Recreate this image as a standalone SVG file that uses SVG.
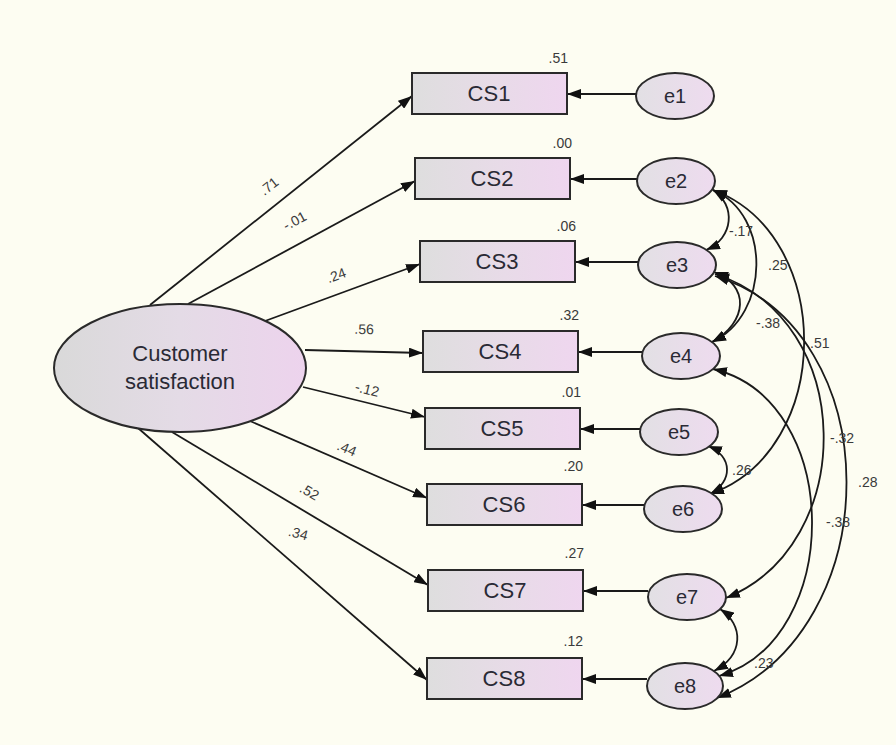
<svg xmlns="http://www.w3.org/2000/svg" width="896" height="745" viewBox="0 0 896 745">
<defs>
<linearGradient id="gBox" x1="0" y1="0" x2="1" y2="0"><stop offset="0" stop-color="#dedede"/><stop offset="0.55" stop-color="#e8dbe8"/><stop offset="1" stop-color="#efd6ef"/></linearGradient>
<linearGradient id="gLat" x1="0" y1="0" x2="1" y2="0"><stop offset="0" stop-color="#d9d9d9"/><stop offset="0.5" stop-color="#e4dbe6"/><stop offset="1" stop-color="#edd3ed"/></linearGradient>
<linearGradient id="gErr" x1="0" y1="0" x2="1" y2="0"><stop offset="0" stop-color="#e2e0e4"/><stop offset="1" stop-color="#eedbef"/></linearGradient>
<marker id="ah" viewBox="0 0 14 10" refX="14" refY="5" markerWidth="14" markerHeight="10" markerUnits="userSpaceOnUse" orient="auto-start-reverse"><path d="M0,0 L14,5 L0,10 z" fill="#111"/></marker>
</defs>
<style>
.box{fill:url(#gBox);stroke:#2a2a2a;stroke-width:2}
.lat{fill:url(#gLat);stroke:#2a2a2a;stroke-width:2}
.err{fill:url(#gErr);stroke:#2a2a2a;stroke-width:2}
.t{font-family:"Liberation Sans",Arial,sans-serif;fill:#2a2a35}
.nm{font-size:22px;text-anchor:middle}
.el{font-size:20px;text-anchor:middle}
.num{font-size:14px;fill:#3a3a3a}
.r2{font-size:14px;fill:#3a3a3a;text-anchor:end}
.pl{font-size:14px;fill:#3a3a3a;text-anchor:middle}
.ln{fill:none;stroke:#1a1a1a;stroke-width:1.8;marker-end:url(#ah)}
.cv{fill:none;stroke:#1a1a1a;stroke-width:1.8;marker-start:url(#ah);marker-end:url(#ah)}
</style>
<rect x="0" y="0" width="896" height="745" fill="#fdfdf2"/>

<g id="connectors">
<line class="ln" x1="150" y1="305" x2="412" y2="96"/>
<line class="ln" x1="188" y1="304" x2="415" y2="181"/>
<line class="ln" x1="265" y1="321" x2="420" y2="264"/>
<line class="ln" x1="305" y1="350" x2="423" y2="353"/>
<line class="ln" x1="303" y1="387" x2="425" y2="417"/>
<line class="ln" x1="250" y1="421" x2="427" y2="498"/>
<line class="ln" x1="172" y1="432" x2="428" y2="585"/>
<line class="ln" x1="138" y1="428" x2="427" y2="680"/>

<line class="ln" x1="636" y1="94" x2="567" y2="94"/>
<line class="ln" x1="637" y1="179" x2="570" y2="179"/>
<line class="ln" x1="638" y1="262" x2="575" y2="262"/>
<line class="ln" x1="642" y1="352" x2="578" y2="352"/>
<line class="ln" x1="640" y1="429" x2="580" y2="429"/>
<line class="ln" x1="644" y1="505" x2="582" y2="505"/>
<line class="ln" x1="648" y1="591" x2="583" y2="591"/>
<line class="ln" x1="647" y1="679" x2="582" y2="679"/>

<path class="cv" d="M713,190 C736,205 734,238 706,250"/>
<path class="cv" d="M713,190 C772,215 770,315 712,342"/>
<path class="cv" d="M714,272 C750,285 748,322 712,342"/>
<path class="cv" d="M713,190 C835,235 835,450 710,494"/>
<path class="cv" d="M715,274 C858,320 858,545 726,598"/>
<path class="cv" d="M715,276 C890,330 890,630 717,698"/>
<path class="cv" d="M713,369 C844,400 844,640 719,676"/>
<path class="cv" d="M708,446 C733,456 733,482 710,494"/>
<path class="cv" d="M720,609 C744,625 744,655 714,671"/>

<text class="t pl" transform="translate(272,190) rotate(-38)">.71</text>
<text class="t pl" transform="translate(297,225) rotate(-28)">-.01</text>
<text class="t pl" transform="translate(338,280) rotate(-20)">.24</text>
<text class="t pl" transform="translate(364,334) rotate(1)">.56</text>
<text class="t pl" transform="translate(366,394) rotate(14)">-.12</text>
<text class="t pl" transform="translate(345,453) rotate(23)">.44</text>
<text class="t pl" transform="translate(307,496) rotate(30)">.52</text>
<text class="t pl" transform="translate(297,538) rotate(15)">.34</text>

<text class="t num" x="729" y="236">-.17</text>
<text class="t num" x="768" y="270">.25</text>
<text class="t num" x="756" y="328">-.38</text>
<text class="t num" x="810" y="348">.51</text>
<text class="t num" x="830" y="443">-.32</text>
<text class="t num" x="858" y="487">.28</text>
<text class="t num" x="826" y="527">-.38</text>
<text class="t num" x="732" y="475">.26</text>
<text class="t num" x="754" y="668">.23</text>
</g>

<g id="latent">
<ellipse class="lat" cx="180" cy="368" rx="126" ry="64"/>
<text class="t nm" x="180" y="361">Customer</text>
<text class="t nm" x="180" y="389">satisfaction</text>
</g>

<g id="CS1"><rect class="box" x="412" y="73" width="155" height="41"/><text class="t nm" x="489" y="101">CS1</text><text class="t r2" x="568" y="63">.51</text></g>
<g id="CS2"><rect class="box" x="415" y="158" width="155" height="41"/><text class="t nm" x="492" y="186">CS2</text><text class="t r2" x="572" y="148">.00</text></g>
<g id="CS3"><rect class="box" x="420" y="241" width="155" height="41"/><text class="t nm" x="497" y="269">CS3</text><text class="t r2" x="576" y="231">.06</text></g>
<g id="CS4"><rect class="box" x="423" y="331" width="155" height="41"/><text class="t nm" x="500" y="359">CS4</text><text class="t r2" x="579" y="320">.32</text></g>
<g id="CS5"><rect class="box" x="425" y="408" width="155" height="41"/><text class="t nm" x="502" y="436">CS5</text><text class="t r2" x="581" y="397">.01</text></g>
<g id="CS6"><rect class="box" x="427" y="484" width="155" height="41"/><text class="t nm" x="504" y="512">CS6</text><text class="t r2" x="583" y="471">.20</text></g>
<g id="CS7"><rect class="box" x="428" y="570" width="155" height="41"/><text class="t nm" x="505" y="598">CS7</text><text class="t r2" x="584" y="558">.27</text></g>
<g id="CS8"><rect class="box" x="427" y="658" width="155" height="41"/><text class="t nm" x="504" y="686">CS8</text><text class="t r2" x="583" y="646">.12</text></g>

<g id="e1"><ellipse class="err" cx="675" cy="96" rx="39" ry="23"/><text class="t el" x="675" y="103">e1</text></g>
<g id="e2"><ellipse class="err" cx="676" cy="181" rx="39" ry="23"/><text class="t el" x="676" y="188">e2</text></g>
<g id="e3"><ellipse class="err" cx="677" cy="265" rx="39" ry="23"/><text class="t el" x="677" y="272">e3</text></g>
<g id="e4"><ellipse class="err" cx="681" cy="356" rx="39" ry="23"/><text class="t el" x="681" y="363">e4</text></g>
<g id="e5"><ellipse class="err" cx="679" cy="432" rx="39" ry="23"/><text class="t el" x="679" y="439">e5</text></g>
<g id="e6"><ellipse class="err" cx="683" cy="509" rx="39" ry="23"/><text class="t el" x="683" y="516">e6</text></g>
<g id="e7"><ellipse class="err" cx="687" cy="597" rx="39" ry="23"/><text class="t el" x="687" y="604">e7</text></g>
<g id="e8"><ellipse class="err" cx="685" cy="686" rx="38" ry="23"/><text class="t el" x="685" y="693">e8</text></g>
</svg>
